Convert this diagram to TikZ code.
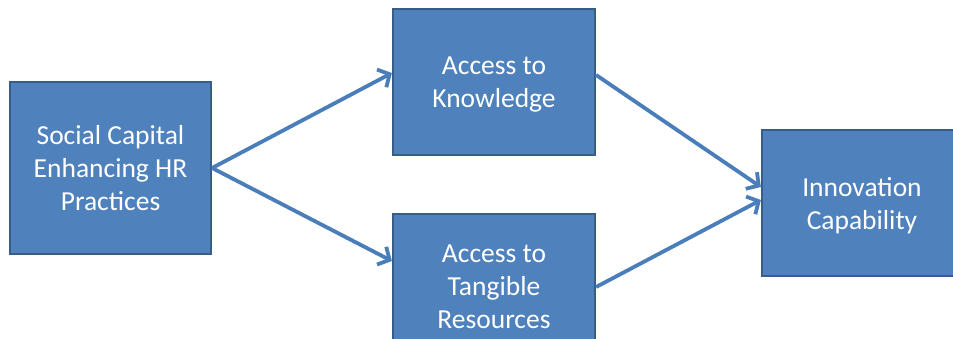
\documentclass[tikz,border=0pt]{standalone}
\usepackage{fontspec}
\setmainfont{Carlito}
\usetikzlibrary{arrows.meta}
\definecolor{boxfill}{HTML}{4F81BD}
\definecolor{boxline}{HTML}{385D8A}
\definecolor{arrowc}{HTML}{4A7EBB}
\begin{document}
\begin{tikzpicture}[x=1pt,y=-1pt,
  blockbox/.style={draw=boxline, line width=2.2pt, fill=boxfill, text=white,
    align=center, inner sep=0pt, text depth=0pt, font=\fontsize{27.5}{33}\selectfont},
  conn/.style={draw=arrowc, line width=3.8pt,
    -{Straight Barb[length=9pt,width=20pt,line width=3.8pt]}}]
\useasboundingbox (0,0) rectangle (953,339);
\clip (0,0) rectangle (953,339);
\node[blockbox, minimum width=201pt, minimum height=172pt] (src) at (110.5,168) {Social Capital\\Enhancing HR\\Practices};
\node[blockbox, minimum width=202pt, minimum height=146pt] (know) at (494,82) {Access to\\Knowledge};
\node[blockbox, minimum width=202pt, minimum height=146pt] (tang) at (494,287) {Access to\\Tangible\\Resources};
\node[blockbox, minimum width=200pt, minimum height=146pt] (innov) at (862,203) {Innovation\\Capability};
\draw[conn] (src.east) -- ([yshift=9pt]know.west);
\draw[conn] (src.east) -- ([yshift=26pt]tang.west);
\draw[conn] ([yshift=7pt]know.east) -- ([yshift=16pt]innov.west);
\draw[conn] (tang.east) -- ([yshift=3pt]innov.west);
\end{tikzpicture}
\end{document}
